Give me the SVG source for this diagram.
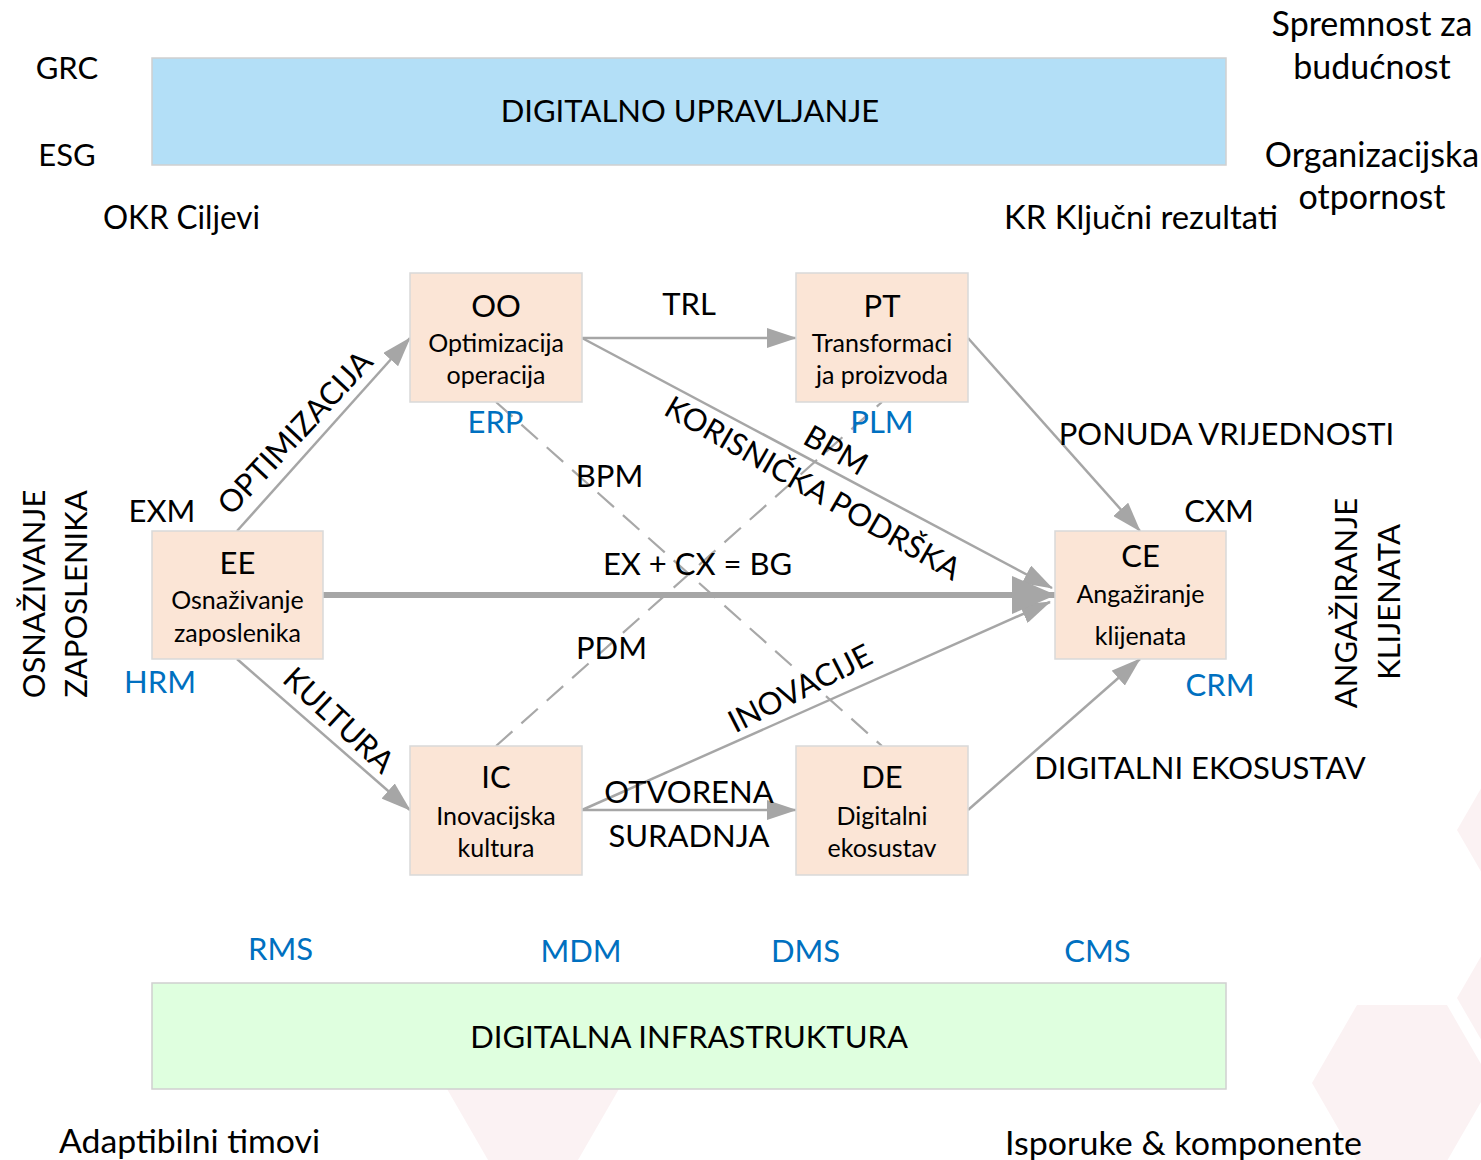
<svg xmlns="http://www.w3.org/2000/svg" width="1481" height="1160" viewBox="0 0 1481 1160">
<style>
text{font-family:Lato,"Liberation Sans",sans-serif;fill:#000}
.lb{font-size:31px}
.mx{font-size:33px}
.big{font-size:34px}
.t{font-size:31px;text-anchor:middle}
.s{font-size:25px;text-anchor:middle}
.blue{fill:#0070c0}
.m{text-anchor:middle}
.node rect{fill:#fbe5d6;stroke:#d9d9d9;stroke-width:1.5}
.band{stroke:#d0d0d0;stroke-width:1.5}
.hex{fill:#fbf2f3}
.c{stroke:#a6a6a6;stroke-width:2.5;fill:none}
.d{stroke:#a8a8a8;stroke-width:2.2;fill:none;stroke-dasharray:22 12}
</style>
<defs>
<marker id="arr" markerUnits="userSpaceOnUse" markerWidth="30" markerHeight="20" refX="29" refY="10" orient="auto" viewBox="0 0 30 20"><path d="M0,0 L30,10 L0,20 z" fill="#a6a6a6"/></marker>
<marker id="arrT" markerUnits="userSpaceOnUse" markerWidth="44" markerHeight="38" refX="43" refY="19" orient="auto" viewBox="0 0 44 38"><path d="M0,0 L44,19 L0,38 z" fill="#a6a6a6"/></marker>
</defs>
<rect width="1481" height="1160" fill="#fff"/>
<g id="background">
<polygon class="hex" points="1312,1083 1357,1005 1447,1005 1492,1083 1447,1161 1357,1161"/>
<polygon class="hex" points="1457,830 1502,752 1592,752 1637,830 1592,908 1502,908"/>
<polygon class="hex" points="1457,998 1502,920 1592,920 1637,998 1592,1076 1502,1076"/>
<polygon class="hex" points="443,1082 488,1004 578,1004 623,1082 578,1160 488,1160"/>
</g>
<g id="band-top"><rect class="band" x="152" y="58" width="1074" height="107" fill="#b3dff7"/><text class="lb m" x="690" y="122">DIGITALNO UPRAVLJANJE</text></g>
<g id="band-bottom"><rect class="band" x="152" y="983" width="1074" height="106" fill="#dfffdf"/><text class="lb m" x="689" y="1048">DIGITALNA INFRASTRUKTURA</text></g>
<g id="connectors">
<path class="d" d="M496,402 L882,746"/>
<path class="d" d="M496,746 L882,402"/>
<path class="c" d="M237,531 L410,338" marker-end="url(#arr)"/>
<path class="c" d="M582,338 L796,338" marker-end="url(#arr)"/>
<path class="c" d="M968,338 L1140,531" marker-end="url(#arr)"/>
<path class="c" d="M582,338 L1052,588" marker-end="url(#arr)"/>
<path class="c" d="M582,810 L1050,602" marker-end="url(#arr)"/>
<path class="c" d="M582,810 L796,810" marker-end="url(#arr)"/>
<path class="c" d="M968,810 L1140,659" marker-end="url(#arr)"/>
<path class="c" d="M237,659 L410,810" marker-end="url(#arr)"/>
<path class="c" d="M323,595 L1055,595" style="stroke-width:6;stroke-linecap:round" marker-end="url(#arrT)"/>
</g>
<g id="node-OO" class="node"><rect x="410" y="273" width="172" height="129"/><text class="t" x="496" y="317">OO</text><text class="s" x="496" y="352">Optimizacija</text><text class="s" x="496" y="384">operacija</text></g>
<g id="node-PT" class="node"><rect x="796" y="273" width="172" height="129"/><text class="t" x="882" y="317">PT</text><text class="s" x="882" y="352">Transformaci</text><text class="s" x="882" y="384">ja proizvoda</text></g>
<g id="node-EE" class="node"><rect x="152" y="531" width="171" height="128"/><text class="t" x="237.5" y="574">EE</text><text class="s" x="237.5" y="609">Osnaživanje</text><text class="s" x="237.5" y="642">zaposlenika</text></g>
<g id="node-CE" class="node"><rect x="1055" y="531" width="171" height="128"/><text class="t" x="1140.5" y="567">CE</text><text class="s" x="1140.5" y="603">Angažiranje</text><text class="s" x="1140.5" y="645">klijenata</text></g>
<g id="node-IC" class="node"><rect x="410" y="746" width="172" height="129"/><text class="t" x="496" y="788">IC</text><text class="s" x="496" y="825">Inovacijska</text><text class="s" x="496" y="857">kultura</text></g>
<g id="node-DE" class="node"><rect x="796" y="746" width="172" height="129"/><text class="t" x="882" y="788">DE</text><text class="s" x="882" y="825">Digitalni</text><text class="s" x="882" y="857">ekosustav</text></g>
<g id="labels">
<text class="lb m" x="67" y="79">GRC</text>
<text class="lb m" x="67" y="166">ESG</text>
<text class="mx" x="103" y="229" textLength="157" lengthAdjust="spacingAndGlyphs">OKR Ciljevi</text>
<text class="mx" x="1004" y="229" textLength="274" lengthAdjust="spacingAndGlyphs">KR Ključni rezultati</text>
<text class="big m" x="1372" y="36">Spremnost za</text>
<text class="big m" x="1372" y="79">budućnost</text>
<text class="big m" x="1372" y="167">Organizacijska</text>
<text class="big m" x="1372" y="209">otpornost</text>
<text class="lb m" x="689" y="315">TRL</text>
<text class="lb m blue" x="495.5" y="433">ERP</text>
<text class="lb m blue" x="882" y="433">PLM</text>
<text class="lb m" x="609.5" y="487">BPM</text>
<text class="lb m" x="1226.5" y="445">PONUDA VRIJEDNOSTI</text>
<text class="lb m" x="162" y="522">EXM</text>
<text class="lb m" x="1219" y="522">CXM</text>
<text class="lb m" x="697.5" y="575">EX + CX = BG</text>
<text class="lb m blue" x="160" y="693">HRM</text>
<text class="lb m blue" x="1220" y="696">CRM</text>
<text class="lb m" x="611.5" y="659">PDM</text>
<text class="lb m" x="689" y="803">OTVORENA</text>
<text class="lb m" x="689" y="847">SURADNJA</text>
<text class="lb m" x="1200" y="779">DIGITALNI EKOSUSTAV</text>
<text class="lb m blue" x="280.5" y="960">RMS</text>
<text class="lb m blue" x="581" y="962">MDM</text>
<text class="lb m blue" x="805.5" y="962">DMS</text>
<text class="lb m blue" x="1097.5" y="962">CMS</text>
<text class="mx" x="59" y="1153" textLength="261" lengthAdjust="spacingAndGlyphs">Adaptibilni timovi</text>
<text class="mx" x="1005" y="1155" textLength="357" lengthAdjust="spacingAndGlyphs">Isporuke &amp; komponente</text>
<text class="lb m" transform="translate(303,440) rotate(-47)">OPTIMIZACIJA</text>
<text class="lb m" transform="translate(331.5,728) rotate(43)">KULTURA</text>
<text class="lb m" transform="translate(807.5,497.5) rotate(30)">KORISNIČKA PODRŠKA</text>
<text class="lb m" transform="translate(830.5,459.5) rotate(30)">BPM</text>
<text class="lb m" transform="translate(805,698) rotate(-27)">INOVACIJE</text>
<text class="lb m" transform="translate(45,594) rotate(-90)">OSNAŽIVANJE</text>
<text class="lb m" transform="translate(87,594) rotate(-90)">ZAPOSLENIKA</text>
<text class="lb m" transform="translate(1357,603) rotate(-90)">ANGAŽIRANJE</text>
<text class="lb m" transform="translate(1400,602) rotate(-90)">KLIJENATA</text>
</g>
</svg>
